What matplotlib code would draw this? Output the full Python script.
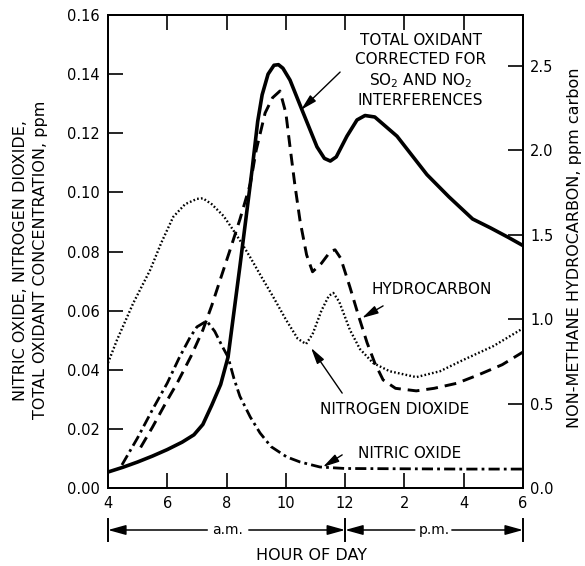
import matplotlib
matplotlib.use("Agg")
import matplotlib.pyplot as plt
from matplotlib.lines import Line2D

plt.rcParams['font.family'] = ['DejaVu Sans']
plt.rcParams['lines.scale_dashes'] = False

# ---------------- data (hour of day, 4 = 4 a.m., 18 = 6 p.m.) ----------------
ox_hours = [4.0, 4.5, 5.0, 5.5, 6.0, 6.5, 6.9, 7.2, 7.5, 7.8, 8.05, 8.45, 8.86, 9.05, 9.2,
            9.4, 9.6, 9.75, 9.9, 10.14, 10.54, 11.05, 11.3, 11.5, 11.7, 12.06, 12.4,
            12.67, 13.0, 13.75, 14.76, 15.5, 16.3, 16.9, 17.5, 18.0]
ox_ppm = [0.0054, 0.0070, 0.0088, 0.0108, 0.0130, 0.0155, 0.0180, 0.0215, 0.0280, 0.0350,
          0.0443, 0.0750, 0.1076, 0.1240, 0.1330, 0.1400, 0.1430, 0.1432, 0.1420, 0.1380,
          0.1280, 0.1154, 0.1115, 0.1106, 0.1120, 0.1190, 0.1245, 0.1260, 0.1255, 0.1190,
          0.1060, 0.0985, 0.0910, 0.0880, 0.0848, 0.0820]

hc_hours = [5.1, 5.5, 6.0, 6.33, 6.8, 7.2, 7.5, 7.78, 8.1, 8.45, 8.8, 9.0, 9.3, 9.55,
            9.8, 10.0, 10.14, 10.3, 10.48, 10.7, 10.9, 11.2, 11.5, 11.66, 11.85, 12.16,
            12.45, 12.74, 13.0, 13.28, 13.7, 14.4, 15.0, 15.77, 16.5, 17.3, 18.0]
hc_ppmc = [0.24, 0.36, 0.52, 0.62, 0.78, 0.935, 1.08, 1.23, 1.40, 1.59, 1.80, 2.00, 2.22,
           2.31, 2.35, 2.22, 2.02, 1.80, 1.58, 1.38, 1.28, 1.33, 1.40, 1.41, 1.36, 1.19,
           1.02, 0.86, 0.74, 0.64, 0.59, 0.575, 0.59, 0.62, 0.67, 0.73, 0.805]

no2_hours = [4.0, 4.3, 4.85, 5.42, 5.8, 6.2, 6.6, 7.0, 7.2, 7.5, 7.9, 8.22, 8.5, 8.8,
             9.2, 9.57, 10.0, 10.4, 10.68, 10.9, 11.2, 11.45, 11.6, 11.8, 12.16, 12.5,
             12.94, 13.5, 14.4, 15.2, 15.98, 17.0, 18.0]
no2_ppm = [0.0423, 0.0500, 0.0625, 0.0737, 0.0830, 0.0917, 0.0960, 0.0978, 0.0980, 0.0960,
           0.0920, 0.0873, 0.0830, 0.0780, 0.0710, 0.0647, 0.0570, 0.0505, 0.0487, 0.0520,
           0.0600, 0.0650, 0.0660, 0.0630, 0.0535, 0.0470, 0.0423, 0.0395, 0.0375, 0.0395,
           0.0433, 0.0480, 0.0540]

no_hours = [4.47, 5.0, 5.5, 6.0, 6.4, 6.77, 7.0, 7.33, 7.6, 7.85, 8.05, 8.25, 8.45, 8.8,
            9.13, 9.5, 10.03, 10.48, 11.15, 12.0, 14.0, 16.0, 18.0]
no_ppm = [0.0078, 0.0170, 0.0265, 0.0355, 0.0440, 0.0510, 0.0545, 0.0565, 0.0530, 0.0480,
          0.0443, 0.0370, 0.0310, 0.0240, 0.0186, 0.0140, 0.0105, 0.0088, 0.0071, 0.0066,
          0.0065, 0.0064, 0.0064]

x_ticks = [4, 6, 8, 10, 12, 14, 16, 18]
x_ticklabels = ['4', '6', '8', '10', '12', '2', '4', '6']
left_ticks = [0.00, 0.02, 0.04, 0.06, 0.08, 0.10, 0.12, 0.14, 0.16]
right_ticks = [0.0, 0.5, 1.0, 1.5, 2.0, 2.5]

# ---------------- figure ----------------
W, H = 585, 566
fig = plt.figure(figsize=(W / 100, H / 100), dpi=100)
L, R, T, B = 108, 523, 15, 488
ax = fig.add_axes([L / W, 1 - B / H, (R - L) / W, (B - T) / H])
ax2 = ax.twinx()

ax.set_xlim(4, 18)
ax.set_ylim(0, 0.16)
ax2.set_ylim(0, 2.8)

ax.plot(ox_hours, ox_ppm, color='black', lw=2.6, solid_joinstyle='round', zorder=5)
ax.plot(no2_hours, no2_ppm, color='black', lw=1.7, dashes=(1.2, 1.6))
ax.plot(no_hours, no_ppm, color='black', lw=2.0, dashes=(8, 3, 2, 3))
ax2.plot(hc_hours, hc_ppmc, color='black', lw=2.1, dashes=(8.5, 5))

for a in (ax, ax2):
    for s in a.spines.values():
        s.set_linewidth(1.4)

ax.set_xticks(x_ticks)
ax.set_xticklabels(x_ticklabels)
ax.set_yticks(left_ticks)
ax.set_yticklabels(['%.2f' % v for v in left_ticks])
ax.tick_params(axis='x', direction='in', length=11, width=1.2, top=True, labelsize=10.5, pad=6)
ax.tick_params(axis='y', direction='in', length=11, width=1.2, left=True, right=False,
               labelsize=10.5, pad=6)
ax2.set_yticks(right_ticks)
ax2.set_yticklabels(['%.1f' % v for v in right_ticks])
ax2.tick_params(axis='y', direction='in', length=11, width=1.2, labelsize=10.5, pad=5)

# axis labels
fig.text(21 / W, 1 - 261 / H, 'NITRIC OXIDE, NITROGEN DIOXIDE,', rotation=90,
         ha='center', va='center', fontsize=11.5)
fig.text(41 / W, 1 - 260 / H, 'TOTAL OXIDANT CONCENTRATION, ppm', rotation=90,
         ha='center', va='center', fontsize=11.5)
fig.text(574 / W, 1 - 248 / H, 'NON-METHANE HYDROCARBON, ppm carbon', rotation=90,
         ha='center', va='center', fontsize=11.5)
fig.text(312 / W, 1 - 556 / H, 'HOUR OF DAY', ha='center', va='center', fontsize=11.5)

# a.m. / p.m. bar
trans = ax.get_xaxis_transform()
y_arr = (B - 530) / (B - T)
y_b0 = (B - 519) / (B - T)
y_b1 = (B - 541) / (B - T)
for hx in (4, 12, 18):
    ax.add_line(Line2D([hx, hx], [y_b0, y_b1], transform=trans, color='black',
                       lw=1.4, clip_on=False))
aprops = dict(arrowstyle='-|>,head_length=0.9,head_width=0.25', color='black', lw=1.1,
              shrinkA=0, shrinkB=0, mutation_scale=12)
for x0, x1 in ((7.35, 4), (8.75, 12), (14.35, 12), (15.6, 18)):
    ax.annotate('', xy=(x1, y_arr), xytext=(x0, y_arr), xycoords=trans,
                textcoords=trans, arrowprops=aprops, annotation_clip=False)
ax.text(8.05, y_arr, 'a.m.', transform=trans, ha='center', va='center', fontsize=10)
ax.text(15.0, y_arr, 'p.m.', transform=trans, ha='center', va='center', fontsize=10)

# curve annotations
lprops = dict(arrowstyle='-|>,head_length=0.7,head_width=0.18', color='black', lw=1.0,
              shrinkA=0, shrinkB=0, mutation_scale=14)
ax.text(14.55, 0.1411, 'TOTAL OXIDANT\nCORRECTED FOR\nSO$_2$ AND NO$_2$\nINTERFERENCES',
        ha='center', va='center', fontsize=11, linespacing=1.3)
ax.annotate('', xy=(10.51, 0.1279), xytext=(11.83, 0.1407), arrowprops=lprops)

ax.text(14.93, 0.067, 'HYDROCARBON', ha='center', va='center', fontsize=11)
ax.annotate('', xy=(12.57, 0.0575), xytext=(13.28, 0.0616), arrowprops=lprops)

ax.text(13.68, 0.0264, 'NITROGEN DIOXIDE', ha='center', va='center', fontsize=11)
ax.annotate('', xy=(10.85, 0.0474), xytext=(11.9, 0.0321), arrowprops=lprops)

ax.text(14.19, 0.0118, 'NITRIC OXIDE', ha='center', va='center', fontsize=11)
ax.annotate('', xy=(11.25, 0.0071), xytext=(11.9, 0.0112), arrowprops=lprops)

fig.savefig('out.png', dpi=100)
